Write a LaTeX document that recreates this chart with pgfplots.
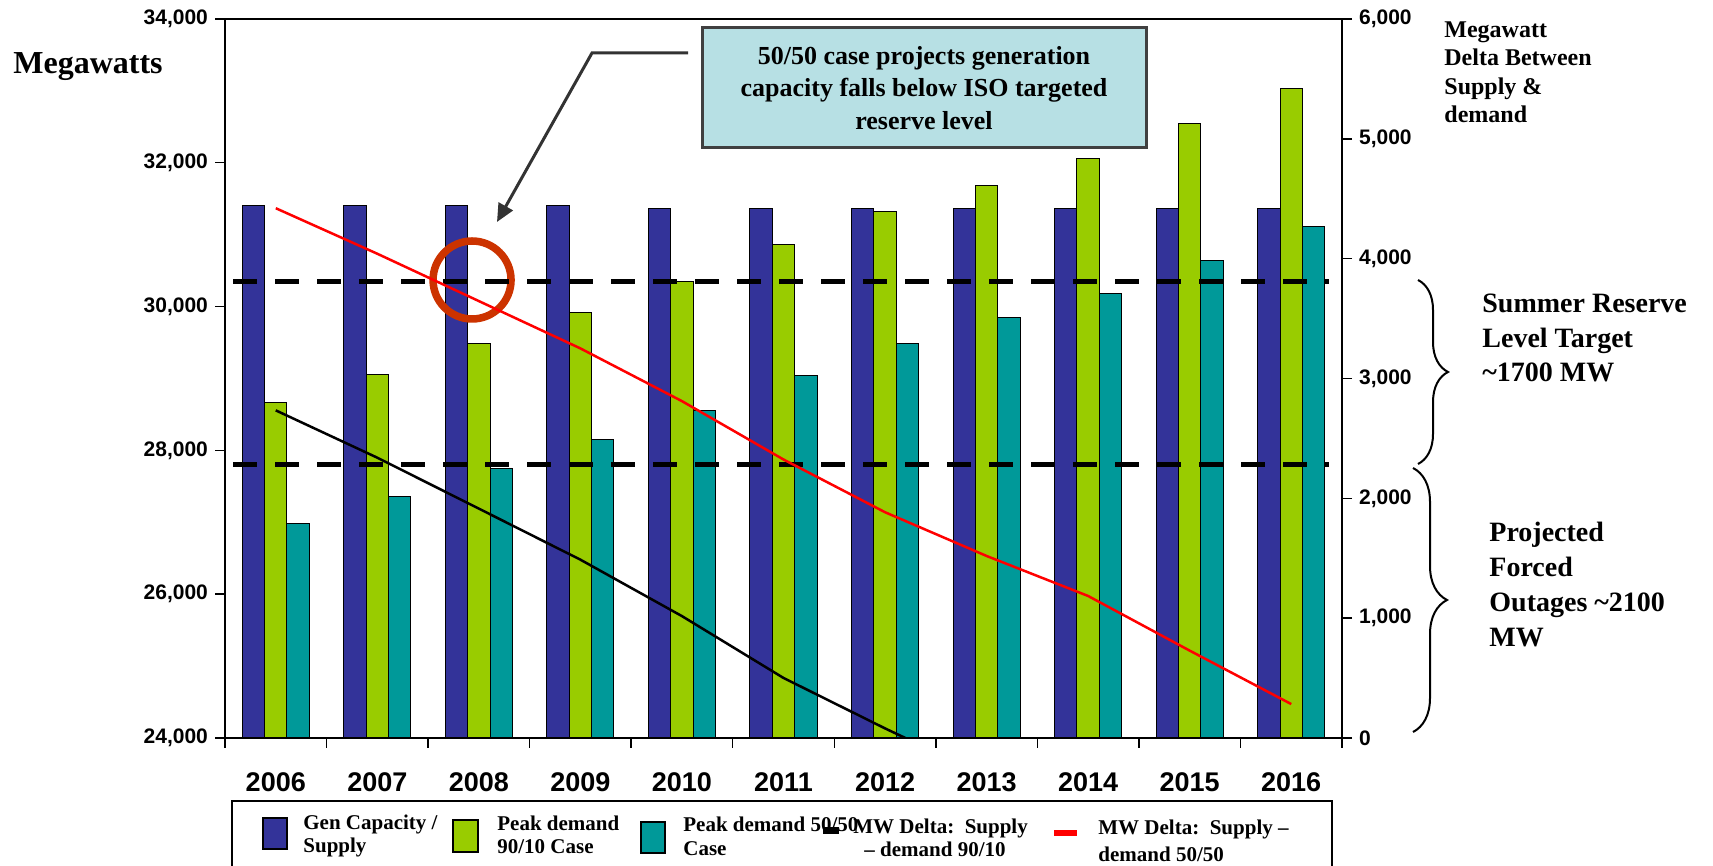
\documentclass[border=0pt]{standalone}
\usepackage{pgfplots}
\pgfplotsset{compat=1.18}
\usepackage{pgfplotstable}
\usepackage{fontspec}
\setmainfont{Liberation Serif}
\newfontfamily\sansf{Liberation Sans}
\usetikzlibrary{decorations.pathreplacing,arrows.meta}
\definecolor{navy}{RGB}{51,51,153}
\definecolor{lgreen}{RGB}{153,204,0}
\definecolor{teal2}{RGB}{0,153,153}
\definecolor{ring}{RGB}{204,51,0}
\definecolor{boxfill}{RGB}{183,224,228}
\definecolor{boxedge}{RGB}{64,64,64}
\definecolor{arrowc}{RGB}{51,51,51}

\pgfplotstableread{
x gen peakA peakB
0 31400 28666 26979
1 31400 29061 27359
2 31400 29486 27754
3 31400 29912 28149
4 31370 30353 28559
5 31370 30869 29046
6 31370 31325 29486
7 31370 31690 29851
8 31370 32055 30185
9 31370 32541 30641
10 31370 33027 31112
}\bars

\pgfplotstableread{
x dA dB
0 2734 4421
1 2339 4041
2 1914 3646
3 1488 3251
4 1017 2811
5 501 2324
6 80 1884
7 -320 1519
8 -685 1185
9 -1171 729
10 -1657 283
}\deltas

\tikzset{legtext/.style={anchor=base west, inner sep=0, font=\bfseries\fontsize{10.5}{12}\selectfont}}

\begin{document}
\begin{tikzpicture}
\useasboundingbox (0,0) rectangle (856.5pt,433pt);
\pgfplotsset{
  common/.style={
    at={(112.5pt,64pt)}, anchor=south west,
    scale only axis, width=558.5pt, height=359.5pt,
    xmin=-0.5, xmax=10.5,
    scaled y ticks=false,
    /pgf/number format/1000 sep={,},
    /pgf/number format/assume math mode=true,
    tick align=outside,
    major tick length=5pt,
    axis line style={black, line width=0.7pt},
    tick style={black, line width=0.7pt},
    yticklabel style={font=\sansf\bfseries\fontsize{10.5}{12}\selectfont},
  },
}
\begin{axis}[common,
  ymin=24000, ymax=34000,
  ytick={24000,26000,28000,30000,32000,34000},
  ytick pos=left, xtick pos=bottom,
  xtick={-0.5,0.5,...,10.5}, xticklabels={},
  extra x ticks={0,1,2,3,4,5,6,7,8,9,10},
  extra x tick labels={2006,2007,2008,2009,2010,2011,2012,2013,2014,2015,2016},
  extra x tick style={major tick length=0pt,
    xticklabel style={anchor=base, yshift=-27pt, font=\sansf\bfseries\fontsize{13.5}{15}\selectfont}},
]
\addplot[ybar, bar width=0.22, bar shift=-0.22, fill=navy, draw=black, line width=0.5pt] table[x=x,y=gen]{\bars};
\addplot[ybar, bar width=0.22, bar shift=0, fill=lgreen, draw=black, line width=0.5pt] table[x=x,y=peakA]{\bars};
\addplot[ybar, bar width=0.22, bar shift=0.22, fill=teal2, draw=black, line width=0.5pt] table[x=x,y=peakB]{\bars};
\draw[ring, line width=3.75pt] (axis cs:1.933,30370) circle[radius=19.5pt];
\addplot[black, line width=2.5pt, dash pattern=on 12pt off 9pt] coordinates {(-0.42,30350) (10.37,30350)};
\addplot[black, line width=2.5pt, dash pattern=on 12pt off 9pt] coordinates {(-0.42,27800) (10.37,27800)};
\end{axis}
\begin{axis}[common,
  ymin=0, ymax=6000,
  ytick={0,1000,...,6000},
  axis y line*=right, axis x line=none,
  yticklabel style={anchor=west},
]
\addplot[red, line width=1.25pt] table[x=x,y=dB]{\deltas};
\addplot[black, line width=1.25pt] table[x=x,y=dA]{\deltas};
\end{axis}

% titles and annotations
\node[anchor=base west, inner sep=0, font=\bfseries\fontsize{16}{19}\selectfont] at (6.5pt,396pt) {Megawatts};
\node[anchor=north west, inner sep=0, align=left, font=\bfseries\fontsize{12}{14.3}\selectfont] at (722pt,422.5pt) {Megawatt\\Delta Between\\Supply \&\\demand};
\node[anchor=north west, inner sep=0, align=left, font=\bfseries\fontsize{14}{17.25}\selectfont] at (741pt,286.2pt) {Summer Reserve\\Level Target\\\textasciitilde 1700 MW};
\node[anchor=north west, inner sep=0, align=left, font=\bfseries\fontsize{14}{17.5}\selectfont] at (744.5pt,172.2pt) {Projected\\Forced\\Outages \textasciitilde 2100\\MW};
\draw[line width=1pt, decorate, decoration={brace, amplitude=15pt}] (709pt,293pt) -- (709pt,201pt);
\draw[line width=1pt, decorate, decoration={brace, amplitude=17pt}] (706.5pt,199pt) -- (706.5pt,67pt);

\node[draw=boxedge, line width=1.5pt, fill=boxfill, minimum width=222pt, minimum height=60pt, align=center, inner sep=0, font=\bfseries\fontsize{13}{16.25}\selectfont] at (462pt,389pt) {50/50 case projects generation\\capacity falls below ISO targeted\\reserve level};
\draw[arrowc, line width=1.5pt, -{Triangle[length=9pt,width=8pt]}] (344pt,406.5pt) -- (296pt,406.5pt) -- (248.5pt,322pt);

% legend
\draw[line width=1pt] (116pt,-5pt) rectangle (666pt,32.5pt);
\filldraw[fill=navy, draw=black, line width=0.7pt] (131.5pt,8.5pt) rectangle (143.5pt,24pt);
\node[legtext] at (151.5pt,18pt) {Gen Capacity /};
\node[legtext] at (151.5pt,6.5pt) {Supply};
\filldraw[fill=lgreen, draw=black, line width=0.7pt] (226.5pt,7pt) rectangle (239pt,23pt);
\node[legtext] at (248.5pt,17.5pt) {Peak demand};
\node[legtext] at (248.5pt,6pt) {90/10 Case};
\filldraw[fill=teal2, draw=black, line width=0.7pt] (320.5pt,6.5pt) rectangle (332.5pt,22pt);
\node[legtext] at (341.5pt,17pt) {Peak demand 50/50};
\node[legtext] at (341.5pt,5pt) {Case};
\fill[black] (411.5pt,16pt) rectangle (419.5pt,19.5pt);
\node[legtext] at (426.5pt,16pt) {MW Delta:\ \ Supply};
\node[legtext] at (432pt,4.5pt) {-- demand 90/10};
\fill[red] (527pt,15pt) rectangle (538.5pt,18pt);
\node[legtext] at (549pt,15.5pt) {MW Delta:\ \ Supply --};
\node[legtext] at (549pt,2pt) {demand 50/50};
\end{tikzpicture}
\end{document}
